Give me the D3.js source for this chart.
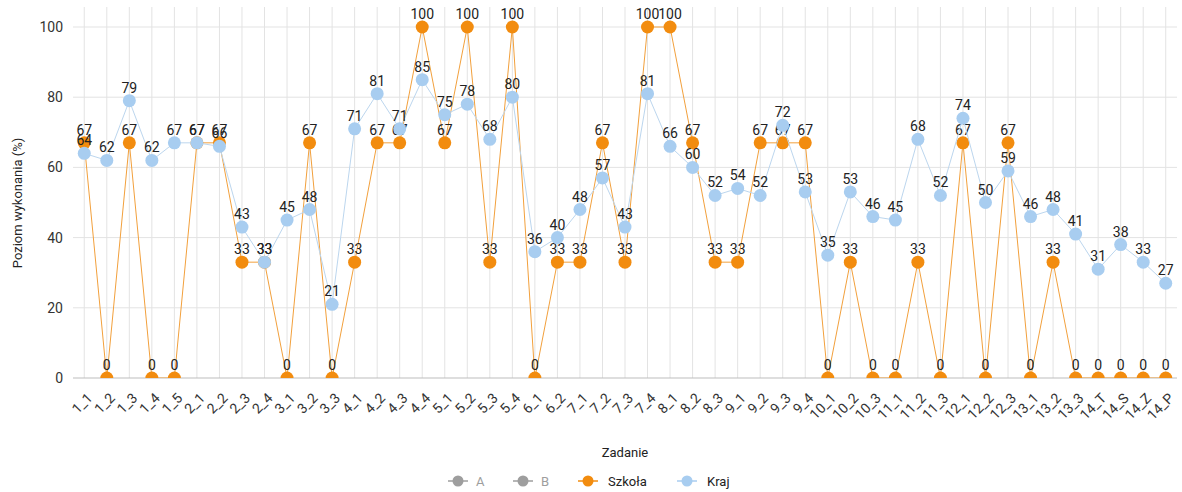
<!DOCTYPE html>
<html><head><meta charset="utf-8">
<script src="https://cdn.jsdelivr.net/npm/d3@7"></script>
<style>body{margin:0;background:#fff;font-family:Roboto,"Noto Sans",sans-serif;}</style>
</head><body><svg id="c" width="1182" height="492"></svg>
<script>
const categories = ["1_1","1_2","1_3","1_4","1_5","2_1","2_2","2_3","2_4","3_1","3_2","3_3","4_1","4_2","4_3","4_4","5_1","5_2","5_3","5_4","6_1","6_2","7_1","7_2","7_3","7_4","8_1","8_2","8_3","9_1","9_2","9_3","9_4","10_1","10_2","10_3","11_1","11_2","11_3","12_1","12_2","12_3","13_1","13_2","13_3","14_T","14_S","14_Z","14_P"];
const szkola = [67,0,67,0,0,67,67,33,33,0,67,0,33,67,67,100,67,100,33,100,0,33,33,67,33,100,100,67,33,33,67,67,67,0,33,0,0,33,0,67,0,67,0,33,0,0,0,0,0];
const kraj = [64,62,79,62,67,67,66,43,33,45,48,21,71,81,71,85,75,78,68,80,36,40,48,57,43,81,66,60,52,54,52,72,53,35,53,46,45,68,52,74,50,59,46,48,41,31,38,33,27];
const yTicks = [0,20,40,60,80,100];
const legendItems = [{name:"A",color:"#9e9e9e",active:false},{name:"B",color:"#9e9e9e",active:false},{name:"Szkoła",color:"#f28c0f",active:true},{name:"Kraj",color:"#a8cdf0",active:true}];

const svg = d3.select("#c");
const L=73,R=1177,T=7,B=378;
const x = d3.scaleBand().domain(categories).range([L,R]);
const cx = d => x(d)+x.bandwidth()/2;
const y = d3.scaleLinear().domain([0,100]).range([B,27]);

svg.append("defs").append("clipPath").attr("id","clip").append("rect").attr("x",L-20).attr("y",0).attr("width",R-L+40).attr("height",B);

// grid
const g = svg.append("g");
g.selectAll(".vg").data(categories).join("line").attr("x1",cx).attr("x2",cx).attr("y1",T).attr("y2",B).attr("stroke","#e3e3e3").attr("stroke-width",1);
g.selectAll(".hg").data(yTicks).join("line").attr("x1",L).attr("x2",R).attr("y1",d=>y(d)).attr("y2",d=>y(d)).attr("stroke",d=>d===0?"#bdbdbd":"#e3e3e3").attr("stroke-width",1);

// y axis labels
const yAxis = d3.axisLeft(y).tickValues(yTicks).tickSize(0).tickPadding(10);
const ya = svg.append("g").attr("transform",`translate(${L},0)`).call(yAxis);
ya.select(".domain").remove();
ya.selectAll("text").attr("font-size",14).attr("fill","#333").attr("font-family","Roboto");

// x axis labels
const xAxis = d3.axisBottom(x).tickSize(0).tickPadding(0);
const xa = svg.append("g").attr("transform",`translate(0,${B})`).call(xAxis);
xa.select(".domain").remove();
xa.selectAll("text").attr("font-size",14).attr("fill","#333").attr("font-family","Roboto")
  .attr("text-anchor","end").attr("dy",0).attr("y",0)
  .attr("transform","translate(9,21) rotate(-45)");

// titles
svg.append("text").attr("transform","translate(22,203) rotate(-90)").attr("text-anchor","middle").attr("font-size",13).attr("fill","#222").text("Poziom wykonania (%)");
svg.append("text").attr("x",(L+R)/2).attr("y",457).attr("text-anchor","middle").attr("font-size",13).attr("fill","#222").text("Zadanie");

function series(vals,color,lineColor){
  const pts = categories.map((c,i)=>({c,v:vals[i]}));
  const sg = svg.append("g").attr("clip-path","url(#clip)");
  sg.append("path").datum(pts).attr("fill","none").attr("stroke",lineColor).attr("stroke-width",1)
    .attr("d",d3.line().x(d=>cx(d.c)).y(d=>y(d.v)));
  sg.selectAll("circle").data(pts).join("circle").attr("cx",d=>cx(d.c)).attr("cy",d=>y(d.v)).attr("r",6.5).attr("fill",color);
  svg.append("g").selectAll("text").data(pts).join("text").attr("x",d=>cx(d.c)).attr("y",d=>y(d.v)-8)
    .attr("text-anchor","middle").attr("font-size",14).attr("fill","#222").text(d=>d.v);
}
series(szkola,"#f28c0f","#f2a03c");
series(kraj,"#a8cdf0","#bcd6ee");

// legend
const lx = [448,513,578,677];
const lg = svg.append("g");
legendItems.forEach((it,i)=>{
  const gg = lg.append("g").attr("transform",`translate(${lx[i]},481)`);
  gg.append("line").attr("x1",0).attr("x2",20).attr("y1",0).attr("y2",0).attr("stroke",it.color).attr("stroke-width",1.5);
  gg.append("circle").attr("cx",10).attr("cy",0).attr("r",5.5).attr("fill",it.color);
  gg.append("text").attr("x",i<2?28:30).attr("y",4.5).attr("font-size",13).attr("fill",it.active?"#222":"#9e9e9e").text(it.name);
});
</script></body></html>
